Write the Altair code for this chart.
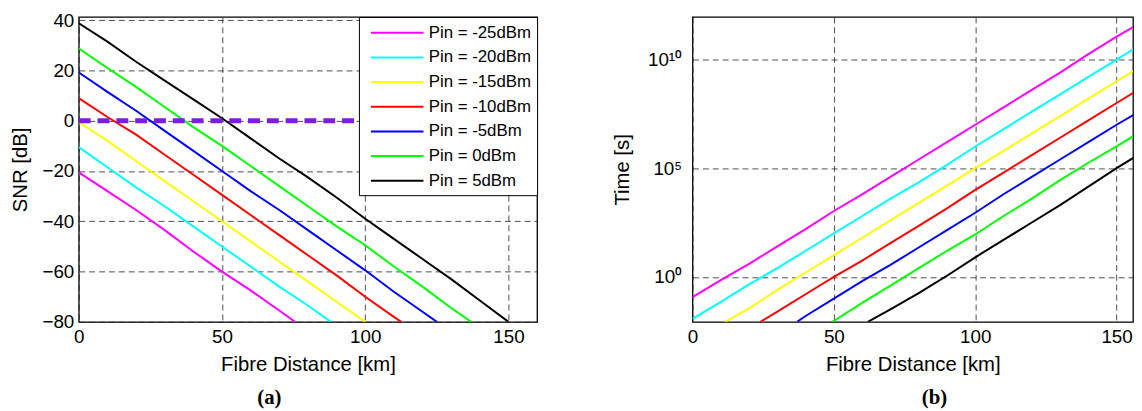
import altair as alt
import pandas as pd

FONT = "Liberation Sans"

labels = ["Pin = -25dBm", "Pin = -20dBm", "Pin = -15dBm", "Pin = -10dBm",
          "Pin = -5dBm", "Pin = 0dBm", "Pin = 5dBm"]
colors = ["#FF00FF", "#00FFFF", "#FFFF00", "#FF0000", "#0000FF", "#00FF00", "#000000"]

# ---- panel (a): SNR [dB] vs fibre distance [km]
snr_x = {
    "Pin = -25dBm": [0, 10, 20, 30, 40, 50, 60, 70, 75.5],
    "Pin = -20dBm": [0, 10, 20, 30, 40, 50, 60, 70, 80, 88],
    "Pin = -15dBm": [0, 10, 20, 30, 40, 50, 60, 70, 80, 90, 100],
    "Pin = -10dBm": [0, 10, 20, 30, 40, 50, 60, 70, 80, 90, 100, 110, 112.6],
    "Pin = -5dBm": [0, 10, 20, 30, 40, 50, 60, 70, 80, 90, 100, 110, 120, 125],
    "Pin = 0dBm": [0, 10, 20, 30, 40, 50, 60, 70, 80, 90, 100, 110, 120, 130, 137],
    "Pin = 5dBm": [0, 10, 20, 30, 40, 50, 60, 70, 80, 90, 100, 110, 120, 130, 140, 150],
}
snr_y = {
    "Pin = -25dBm": [-20.5, -28, -35.5, -43.5, -52, -60, -67.5, -75.5, -80],
    "Pin = -20dBm": [-10.5, -18.5, -26.5, -34, -42, -50, -58, -66, -73.5, -80],
    "Pin = -15dBm": [-0.5, -8, -16, -24, -32, -40, -48, -56, -64, -72, -80],
    "Pin = -10dBm": [9, 1.5, -5.5, -13.5, -21.5, -29.5, -37.5, -45.5, -53.5, -61.5, -70, -78, -80],
    "Pin = -5dBm": [19.2, 11.5, 4, -4, -12, -20, -28, -35.5, -43.5, -51.5, -59.5, -68, -76, -80],
    "Pin = 0dBm": [28.8, 21, 13.5, 5.5, -2.5, -10, -18, -26, -34, -42, -49.5, -58, -66, -74.5, -80],
    "Pin = 5dBm": [38.8, 31.5, 23.5, 16, 8.5, 1, -7, -15, -22.5, -30.5, -39, -47, -55, -63, -71.5, -80],
}
threshold_snr = [0]
threshold_span = [0, 160]

# ---- panel (b): Time [s] vs fibre distance [km], given as log10(Time)
time_x = {
    "Pin = -25dBm": [0, 10, 20, 30, 40, 50, 60, 70, 80, 90, 100, 110, 120, 130, 140, 150, 160],
    "Pin = -20dBm": [0, 10, 20, 30, 40, 50, 60, 70, 80, 90, 100, 110, 120, 130, 140, 150, 160],
    "Pin = -15dBm": [11.5, 20, 30, 40, 50, 60, 70, 80, 90, 100, 110, 120, 130, 140, 150, 160],
    "Pin = -10dBm": [24, 30, 40, 50, 60, 70, 80, 90, 100, 110, 120, 130, 140, 150, 160],
    "Pin = -5dBm": [37, 40, 50, 60, 70, 80, 90, 100, 110, 120, 130, 140, 150, 160],
    "Pin = 0dBm": [49.5, 60, 70, 80, 90, 100, 110, 120, 130, 140, 150, 160],
    "Pin = 5dBm": [62, 70, 80, 90, 100, 110, 120, 130, 140, 150, 160],
}
time_log10 = {
    "Pin = -25dBm": [-0.93, -0.15, 0.6, 1.4, 2.2, 3.03, 3.8, 4.6, 5.4, 6.2, 7.0, 7.8, 8.6, 9.4, 10.25, 11.05, 11.8],
    "Pin = -20dBm": [-1.93, -1.15, -0.35, 0.4, 1.2, 2.0, 2.8, 3.6, 4.35, 5.15, 6.0, 6.8, 7.6, 8.4, 9.2, 10.0, 10.8],
    "Pin = -15dBm": [-2.07, -1.45, -0.6, 0.2, 1.0, 1.8, 2.6, 3.4, 4.2, 5.0, 5.8, 6.6, 7.4, 8.2, 9.0, 9.8],
    "Pin = -10dBm": [-2.07, -1.6, -0.8, 0.0, 0.75, 1.55, 2.35, 3.15, 4.0, 4.8, 5.6, 6.4, 7.2, 8.0, 8.8],
    "Pin = -5dBm": [-2.07, -1.8, -1.0, -0.2, 0.55, 1.35, 2.15, 2.95, 3.8, 4.6, 5.4, 6.2, 7.0, 7.75],
    "Pin = 0dBm": [-2.07, -1.2, -0.4, 0.4, 1.2, 1.95, 2.8, 3.6, 4.45, 5.25, 6.0, 6.8],
    "Pin = 5dBm": [-2.07, -1.5, -0.75, 0.05, 0.9, 1.7, 2.5, 3.3, 4.15, 5.0, 5.8],
}
time_ticks = [1, 1e5, 1e10]

rows_a = []
for lab in labels:
    for d, v in zip(snr_x[lab], snr_y[lab]):
        rows_a.append({"series": lab, "d": d, "snr": v})
df_a = pd.DataFrame(rows_a)

rows_b = []
for lab in labels:
    for d, v in zip(time_x[lab], time_log10[lab]):
        rows_b.append({"series": lab, "d": d, "t": 10 ** v})
df_b = pd.DataFrame(rows_b)

df_thr = pd.DataFrame({"x0": [threshold_span[0]], "x1": [threshold_span[1]], "y": threshold_snr})

color_a = alt.Color(
    "series:N",
    scale=alt.Scale(domain=labels, range=colors),
    legend=alt.Legend(
        title=None, orient="top-right", offset=0, symbolType="M-0.43,0H5.56",
        symbolSize=313, symbolStrokeWidth=2, labelFont=FONT, labelFontSize=17,
        labelColor="black", fillColor="white", strokeColor="black", padding=6,
        rowPadding=6.9, labelOffset=44.5, labelLimit=300, cornerRadius=0,
    ),
)

x_axis = alt.Axis(values=[0, 50, 100, 150], title="Fibre Distance [km]",
                  labelPadding=6, titlePadding=8, labelFlush=False)

lines_a = alt.Chart(df_a).mark_line(strokeWidth=2, clip=True).encode(
    x=alt.X("d:Q", scale=alt.Scale(domain=[0, 160], nice=False, zero=False), axis=x_axis),
    y=alt.Y("snr:Q", scale=alt.Scale(domain=[-80, 41.3], nice=False, zero=False),
            axis=alt.Axis(values=[-80, -60, -40, -20, 0, 20, 40], title="SNR [dB]",
                          labelPadding=5, titlePadding=12)),
    color=color_a,
    order="d:Q",
)
thr = alt.Chart(df_thr).mark_rule(color="#7D1CE4", strokeWidth=5, strokeDash=[12, 7]).encode(
    x="x0:Q", x2="x1:Q", y="y:Q"
)
panel_a = alt.layer(lines_a, thr).properties(
    width=463, height=308,
    title=alt.TitleParams("(a)", orient="bottom", font="Liberation Serif", fontSize=21,
                          fontWeight="bold", color="black", dx=-39, anchor="middle",
                          frame="group", offset=12),
)

lines_b = alt.Chart(df_b).mark_line(strokeWidth=2, clip=True).encode(
    x=alt.X("d:Q", scale=alt.Scale(domain=[0, 155.8], nice=False, zero=False), axis=x_axis),
    y=alt.Y("t:Q", scale=alt.Scale(type="log", domain=[0.0085, 9.1e11], nice=False),
            axis=alt.Axis(values=time_ticks, title="Time [s]", labelPadding=11, titlePadding=15,
                          labelExpr="datum.value == 1 ? '10⁰' : datum.value == 100000 ? '10⁵' : '10¹⁰'")),
    color=alt.Color("series:N", scale=alt.Scale(domain=labels, range=colors), legend=None),
    order="d:Q",
)
panel_b = lines_b.properties(
    width=445, height=308,
    title=alt.TitleParams("(b)", orient="bottom", font="Liberation Serif", fontSize=21,
                          fontWeight="bold", color="black", dx=22, anchor="middle",
                          frame="group", offset=12),
)

chart = alt.hconcat(panel_a, panel_b, spacing=71).resolve_scale(
    x="independent", y="independent", color="independent"
).properties(
    padding={"left": 1.5, "top": 0, "right": 0, "bottom": 0}, background="white"
).configure_axis(
    labelFont=FONT, labelFontSize=19, labelColor="black",
    titleFont=FONT, titleFontSize=20.5, titleFontWeight="normal", titleColor="black",
    ticks=False, domain=False, grid=True, gridDash=[6, 4], gridColor="#222222",
    gridWidth=1, gridOpacity=0.8,
).configure_view(stroke="black", strokeWidth=1.3)

chart.save("out.html", embed_options={"renderer": "svg", "actions": False})
